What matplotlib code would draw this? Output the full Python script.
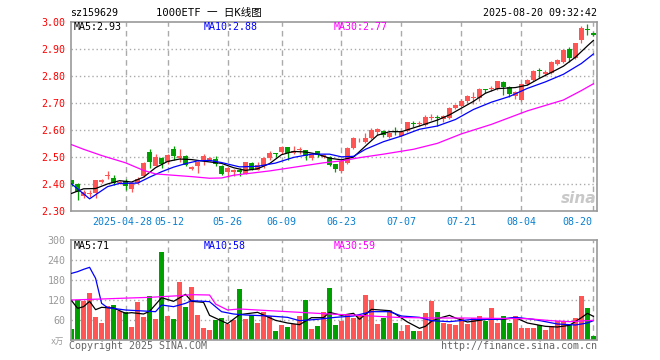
import matplotlib
matplotlib.use("Agg")
import matplotlib.pyplot as plt
import matplotlib.transforms as mtransforms

#******************************************************
# sina style daily K line of 1000ETF (sz159629)
#******************************************************

opens = [2.413, 2.400, 2.356, 2.364, 2.368, 2.407, 2.430, 2.422, 2.405, 2.410,
         2.381, 2.402, 2.428, 2.518, 2.468, 2.496, 2.480, 2.530, 2.496, 2.504,
         2.456, 2.465, 2.490, 2.486, 2.493, 2.468, 2.445, 2.445, 2.450, 2.438,
         2.477, 2.453, 2.465, 2.495, 2.514, 2.518, 2.536, 2.514, 2.524, 2.526,
         2.495, 2.520, 2.501, 2.500, 2.473, 2.446, 2.478, 2.533, 2.557, 2.555,
         2.570, 2.592, 2.597, 2.574, 2.594, 2.578, 2.594, 2.625, 2.620, 2.619,
         2.643, 2.648, 2.638, 2.644, 2.680, 2.687, 2.705, 2.716, 2.718, 2.751,
         2.749, 2.752, 2.776, 2.757, 2.724, 2.710, 2.768, 2.785, 2.822, 2.807,
         2.810, 2.842, 2.850, 2.900, 2.865, 2.930, 2.972, 2.957]
highs = [2.416, 2.402, 2.378, 2.378, 2.416, 2.420, 2.446, 2.433, 2.412, 2.417,
         2.407, 2.427, 2.480, 2.530, 2.510, 2.500, 2.512, 2.540, 2.530, 2.508,
         2.468, 2.485, 2.510, 2.500, 2.505, 2.470, 2.464, 2.455, 2.457, 2.482,
         2.480, 2.480, 2.500, 2.520, 2.515, 2.540, 2.537, 2.540, 2.535, 2.527,
         2.515, 2.522, 2.510, 2.505, 2.475, 2.490, 2.535, 2.572, 2.570, 2.587,
         2.605, 2.608, 2.600, 2.590, 2.612, 2.596, 2.630, 2.634, 2.634, 2.656,
         2.660, 2.655, 2.655, 2.683, 2.697, 2.712, 2.730, 2.739, 2.755, 2.752,
         2.760, 2.782, 2.781, 2.760, 2.745, 2.770, 2.787, 2.820, 2.827, 2.820,
         2.855, 2.862, 2.900, 2.905, 2.922, 2.985, 2.990, 2.962]
lows = [2.392, 2.340, 2.348, 2.351, 2.348, 2.402, 2.418, 2.395, 2.400, 2.376,
        2.369, 2.398, 2.425, 2.458, 2.465, 2.460, 2.475, 2.490, 2.480, 2.465,
        2.453, 2.440, 2.470, 2.483, 2.465, 2.432, 2.427, 2.430, 2.430, 2.435,
        2.450, 2.450, 2.460, 2.490, 2.500, 2.510, 2.490, 2.510, 2.510, 2.490,
        2.490, 2.498, 2.494, 2.466, 2.443, 2.440, 2.474, 2.528, 2.554, 2.550,
        2.566, 2.580, 2.575, 2.570, 2.581, 2.575, 2.590, 2.612, 2.613, 2.614,
        2.635, 2.613, 2.630, 2.640, 2.676, 2.684, 2.700, 2.694, 2.705, 2.736,
        2.742, 2.748, 2.729, 2.720, 2.715, 2.707, 2.765, 2.780, 2.790, 2.800,
        2.805, 2.838, 2.845, 2.850, 2.860, 2.920, 2.950, 2.945]
closes = [2.398, 2.372, 2.372, 2.367, 2.415, 2.413, 2.433, 2.405, 2.407, 2.394,
          2.405, 2.420, 2.477, 2.482, 2.500, 2.472, 2.507, 2.502, 2.505, 2.470,
          2.463, 2.482, 2.505, 2.496, 2.473, 2.437, 2.458, 2.452, 2.445, 2.480,
          2.453, 2.470, 2.495, 2.514, 2.512, 2.536, 2.514, 2.522, 2.528, 2.505,
          2.510, 2.507, 2.507, 2.470, 2.455, 2.486, 2.532, 2.568, 2.560, 2.569,
          2.601, 2.603, 2.582, 2.587, 2.592, 2.593, 2.627, 2.622, 2.626, 2.649,
          2.647, 2.643, 2.650, 2.680, 2.692, 2.708, 2.725, 2.720, 2.751, 2.748,
          2.754, 2.780, 2.757, 2.732, 2.739, 2.768, 2.784, 2.817, 2.817, 2.812,
          2.852, 2.858, 2.895, 2.867, 2.920, 2.976, 2.968, 2.951]
volumes = [33, 120, 116, 142, 69, 51, 103, 106, 88, 83,
           39, 113, 69, 132, 62, 263, 73, 62, 175, 100,
           159, 76, 36, 29, 59, 66, 47, 61, 154, 63,
           76, 51, 85, 72, 27, 44, 39, 47, 73, 121,
           33, 41, 83, 155, 44, 57, 76, 66, 71, 135,
           121, 47, 66, 90, 51, 27, 44, 27, 27, 80,
           116, 83, 51, 47, 44, 67, 47, 67, 71, 57,
           95, 51, 73, 51, 73, 36, 36, 36, 46, 31,
           41, 57, 57, 49, 67, 132, 95, 12]

# moving averages (day index, value)
ma5_idx = [0, 2, 4, 6, 8, 10, 12, 14, 16, 18, 20, 22, 25, 27, 29, 31, 33, 35, 37, 39,
           41, 43, 45, 47, 49, 51, 53, 55, 58, 61, 63, 65, 67, 69, 71, 74, 76, 78, 80,
           82, 84, 86, 87]
ma5_val = [2.365, 2.382, 2.383, 2.400, 2.412, 2.407, 2.425, 2.460, 2.483, 2.492,
           2.490, 2.484, 2.476, 2.460, 2.450, 2.456, 2.475, 2.508, 2.520, 2.518,
           2.510, 2.495, 2.489, 2.499, 2.540, 2.580, 2.593, 2.593, 2.614, 2.636,
           2.655, 2.680, 2.705, 2.735, 2.752, 2.756, 2.765, 2.790, 2.812, 2.835,
           2.868, 2.910, 2.930]
ma10_idx = [0, 3, 6, 8, 11, 13, 15, 17, 19, 21, 23, 25, 28, 31, 34, 37, 40, 43, 45,
            47, 49, 52, 55, 58, 61, 64, 67, 70, 73, 76, 79, 82, 85, 87]
ma10_val = [2.400, 2.345, 2.390, 2.402, 2.403, 2.425, 2.445, 2.462, 2.475, 2.485,
            2.487, 2.479, 2.463, 2.465, 2.477, 2.498, 2.510, 2.510, 2.500, 2.502,
            2.528, 2.556, 2.577, 2.602, 2.614, 2.638, 2.675, 2.702, 2.723, 2.753,
            2.777, 2.805, 2.845, 2.880]
ma30_idx = [0, 2, 5, 9, 12, 14, 17, 20, 23, 25, 27, 30, 33, 36, 39, 42, 45, 48, 52,
            57, 61, 65, 70, 76, 82, 85, 87]
ma30_val = [2.545, 2.528, 2.505, 2.478, 2.450, 2.437, 2.432, 2.427, 2.421, 2.422,
            2.432, 2.440, 2.448, 2.458, 2.468, 2.478, 2.485, 2.497, 2.510, 2.528,
            2.550, 2.585, 2.620, 2.670, 2.710, 2.745, 2.770]

vma5_idx = [0, 1, 2, 3, 4, 5, 7, 9, 10, 12, 13, 15, 17, 19, 20, 22, 23, 26, 28, 31,
            34, 36, 38, 40, 42, 43, 45, 47, 48, 50, 53, 54, 56, 58, 59, 60, 61, 63,
            64, 66, 68, 70, 72, 74, 76, 79, 81, 83, 85, 86, 87]
vma5_val = [118, 95, 100, 116, 91, 98, 96, 80, 82, 78, 86, 127, 116, 137, 116, 113,
            74, 49, 76, 83, 59, 51, 46, 67, 67, 83, 74, 80, 62, 92, 88, 78, 54, 35,
            41, 56, 64, 74, 66, 54, 59, 64, 62, 67, 51, 41, 39, 44, 67, 80, 71]
vma10_idx = [0, 1, 2, 3, 4, 5, 6, 9, 11, 14, 15, 17, 19, 20, 23, 25, 27, 29, 33, 36,
             38, 41, 44, 47, 50, 53, 55, 58, 60, 63, 67, 71, 74, 77, 81, 84, 86, 87]
vma10_val = [200, 205, 212, 218, 185, 110, 97, 90, 88, 85, 105, 100, 110, 118, 115,
             85, 78, 75, 72, 68, 58, 62, 68, 72, 85, 85, 72, 68, 58, 55, 62, 62, 68,
             62, 48, 45, 51, 58]
vma30_idx = [0, 5, 8, 13, 15, 18, 20, 23, 24, 26, 28, 33, 38, 43, 48, 54, 60, 65, 70,
             76, 80, 83, 87]
vma30_val = [120, 123, 125, 128, 130, 133, 136, 135, 108, 90, 93, 88, 83, 78, 74, 68,
             66, 66, 65, 64, 58, 55, 59]

tick_idx = [9, 16, 26, 35, 45, 55, 65, 75, 87]
tick_labels = ["2025-04-28", "05-12", "05-26", "06-09", "06-23", "07-07", "07-21",
               "08-04", "08-20"]
price_ticks = [2.30, 2.40, 2.50, 2.60, 2.70, 2.80, 2.90, 3.00]
vol_ticks = [60, 120, 180, 240, 300]

RED = "#ff5555"
GREEN = "#00a000"
GRID = "#aaaaaa"
MONO = ["DejaVu Sans Mono", "Noto Sans CJK SC"]
plt.rcParams["font.family"] = MONO
plt.rcParams["font.size"] = 7.2

fig = plt.figure(figsize=(6.6, 3.6), dpi=100)
W, H = 660.0, 360.0
ax = fig.add_axes([71 / W, 1 - 211 / H, 526 / W, 189.5 / H])
axv = fig.add_axes([71 / W, 1 - 340 / H, 526 / W, 100 / H])

n = len(closes)
cols = [RED if closes[i] >= opens[i] else GREEN for i in range(n)]

# grid
for a, yt in ((ax, price_ticks[1:-1]), (axv, vol_ticks[:-1])):
    for t in tick_idx:
        a.axvline(t, color=GRID, lw=1.0, ls=(0, (4, 3)), zorder=0)
    for y in yt:
        a.axhline(y, color=GRID, lw=1.0, ls=(0, (1, 2)), zorder=0)
    for s in a.spines.values():
        s.set_color("#999999")
        s.set_linewidth(1.2)
    a.tick_params(length=0)
    a.set_xlim(-0.1, 87.6)
    a.set_xticks([])

# candles
for i in range(n):
    ax.vlines(i, lows[i], highs[i], color=cols[i], lw=0.9, zorder=2)
    b = min(opens[i], closes[i])
    h = max(abs(closes[i] - opens[i]), 0.0028)
    ax.bar(i, h, bottom=b, width=0.72, color=cols[i], linewidth=0, zorder=3)

ax.plot(ma5_idx, ma5_val, color="black", lw=0.9, zorder=4)
ax.plot(ma10_idx, ma10_val, color="#0000ff", lw=0.9, zorder=4)
ax.plot(ma30_idx, ma30_val, color="#ff00ff", lw=0.9, zorder=4)
ax.set_ylim(2.30, 3.00)
ax.set_yticks(price_ticks)
ax.set_yticklabels(["%.2f" % p for p in price_ticks], color="#ff0000")
ax.tick_params(axis="y", pad=4)

# volume
axv.bar(range(n), volumes, width=0.72, color=cols, linewidth=0, zorder=2)
axv.plot(vma5_idx, vma5_val, color="black", lw=0.9, zorder=4)
axv.plot(vma10_idx, vma10_val, color="#0000ff", lw=0.9, zorder=4)
axv.plot(vma30_idx, vma30_val, color="#ff00ff", lw=0.9, zorder=4)
axv.set_ylim(0, 300)
axv.set_yticks(vol_ticks)
axv.set_yticklabels([str(v) for v in vol_ticks], color="#999999")
axv.tick_params(axis="y", pad=4)

# date labels under the price panel
trans = mtransforms.blended_transform_factory(ax.transData, fig.transFigure)
shift = {"2025-04-28": -0.6, "05-12": 0.3, "08-20": -2.7}
for t, lab in zip(tick_idx, tick_labels):
    ax.text(t + shift.get(lab, 0), 1 - 222 / H, lab, transform=trans, ha="center",
            va="center", color="#0a80d0", clip_on=False)

# legends
for a, labs, yy in ((ax, ["MA5:2.93", "MA10:2.88", "MA30:2.77"], 27),
                    (axv, ["MA5:71", "MA10:58", "MA30:59"], 246)):
    for xx, lab, c in zip((74, 204, 334), labs, ("black", "#0000ff", "#ff00ff")):
        fig.text(xx / W, 1 - yy / H, lab, color=c, ha="left", va="center")

# header and footer
fig.text(70 / W, 1 - 13 / H, "sz159629", ha="left", va="center")
fig.text(209 / W, 1 - 13 / H, "1000ETF 一 日K线图", ha="center", va="center",
         fontsize=7.6)
fig.text(597 / W, 1 - 13 / H, "2025-08-20 09:32:42", ha="right", va="center")
fig.text(69 / W, 1 - 346 / H, "Copyright 2025 SINA.COM", color="#666666",
         ha="left", va="center")
fig.text(597 / W, 1 - 346 / H, "http://finance.sina.com.cn", color="#666666",
         ha="right", va="center")
fig.text(57 / W, 1 - 341 / H, "x万", color="#999999", ha="center", va="center",
         fontsize=6)
fig.text(579 / W, 1 - 198 / H, "sina", color="#c8c8c8", ha="center", va="center",
         fontsize=11, fontweight="bold", style="italic", family="DejaVu Sans")

fig.savefig("out.png", dpi=100)
